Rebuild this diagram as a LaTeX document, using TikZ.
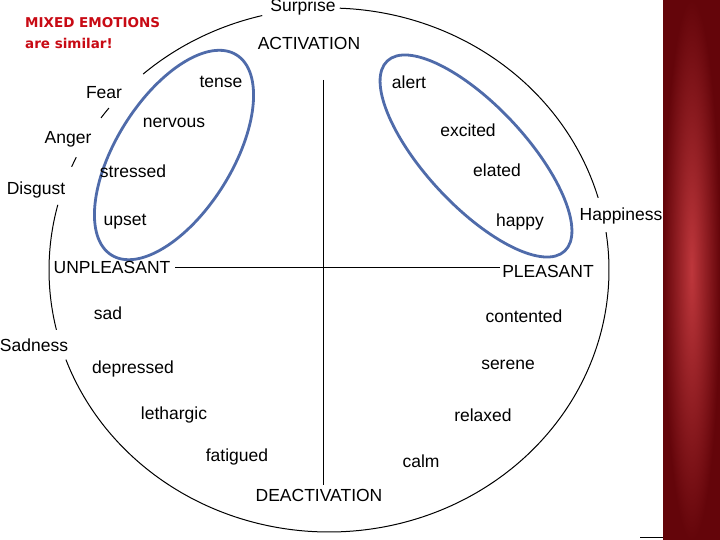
\documentclass[tikz,border=0pt]{standalone}
\usepackage{fontspec}
\setmainfont{Liberation Sans}
\newfontfamily\tfont{DejaVu Sans}
\begin{document}
\begin{tikzpicture}[x=1pt,y=-1pt,
  lab/.style={font=\fontsize{17.5}{19}\selectfont, inner sep=1pt},
  circ/.style={line width=1pt},
  blob/.style={draw={rgb,255:red,79;green,107;blue,170}, line width=2.8pt}]
\useasboundingbox (0,0) rectangle (720,540);
\shade[inner color={rgb,255:red,190;green,55;blue,60}, outer color={rgb,255:red,100;green,5;blue,10}] (663,0) rectangle (720,540);
\draw[line width=0.8pt] (640,537) -- (663,537);
\foreach \a/\b in {-131.6/-103.8, -87.8/-16, -8.3/160, 166.8/194.4, -144.5/-141.8, -156.8/-154.5}
  \draw[circ] plot[domain=\a:\b, samples=80, smooth] ({329+280*cos(\x)},{270+262*sin(\x)});
\coordinate (hl) at (175,267); \coordinate (hr) at (500,267);
\coordinate (vt) at (323,80); \coordinate (vb) at (323,485);
\draw[line width=0.8pt] (hl) -- (hr);
\draw[line width=0.8pt] (vt) -- (vb);
\draw[blob, rotate around={58:(174,155)}] (174,155) ellipse [x radius=118, y radius=58];
\draw[blob, rotate around={-47:(476,156)}] (476,156) ellipse [x radius=130, y radius=50];
\node[lab] (sur) at (303,7) {Surprise};
\node[lab] (hap) at (621,216) {Happiness};
\node[lab] (sad) at (34,345) {Sadness};
\node[lab] (dis) at (36,190) {Disgust};
\node[lab] (ang) at (68,139) {Anger};
\node[lab] (fea) at (104,93) {Fear};
\node[lab] (act) at (309,43) {ACTIVATION};
\node[lab] (dea) at (319,495) {DEACTIVATION};
\node[lab] (unp) at (112,267) {UNPLEASANT};
\node[lab] (ple) at (548,271) {PLEASANT};
\node[lab] (ten) at (221,82) {tense};
\node[lab] (ale) at (409,82) {alert};
\node[lab] (ner) at (174,123) {nervous};
\node[lab] (exc) at (468,130) {excited};
\node[lab] (str) at (133,171) {stressed};
\node[lab] (ela) at (497,170) {elated};
\node[lab] (ups) at (125,222) {upset};
\node[lab] (hpy) at (520,222) {happy};
\node[lab] (sd) at (108,313) {sad};
\node[lab] (con) at (524,316) {contented};
\node[lab] (dep) at (133,369) {depressed};
\node[lab] (ser) at (508,365) {serene};
\node[lab] (let) at (174,415) {lethargic};
\node[lab] (rel) at (483,415) {relaxed};
\node[lab] (fat) at (237,457) {fatigued};
\node[lab] (clm) at (421,461) {calm};
\node[anchor=north west, align=left, text={rgb,255:red,200;green,10;blue,20}, font=\tfont\bfseries\fontsize{13.5}{21}\selectfont, inner sep=0pt] (ttl) at (25,17) {MIXED EMOTIONS\\are similar!};
\end{tikzpicture}
\end{document}
